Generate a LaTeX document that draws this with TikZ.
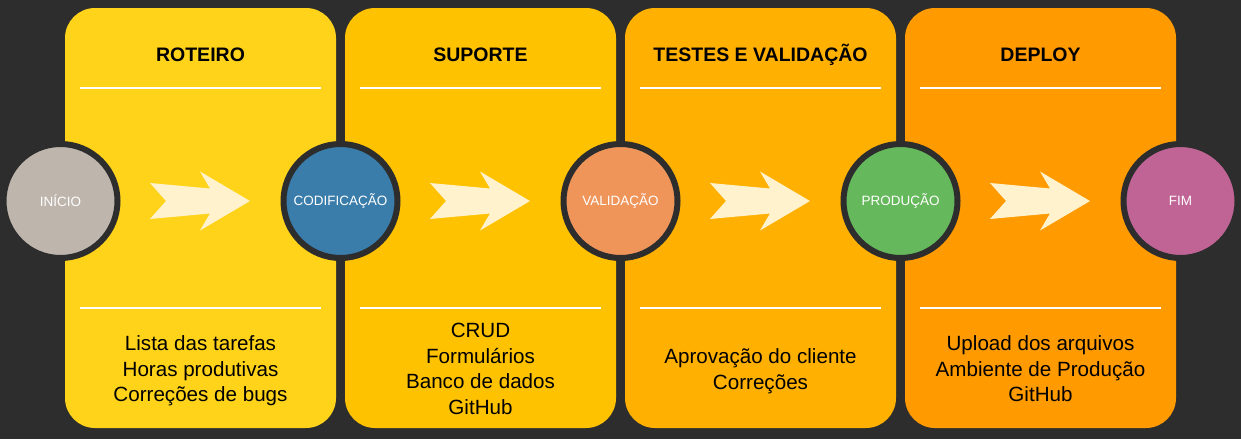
\documentclass[tikz,border=0pt]{standalone}
\usepackage{fontspec}
\setmainfont{Liberation Sans}
\usepackage{tikz}
\definecolor{bgdark}{HTML}{2D2D2D}
\definecolor{roteirocol}{HTML}{FFD31A}
\definecolor{suportecol}{HTML}{FFC200}
\definecolor{testescol}{HTML}{FFB000}
\definecolor{deploycol}{HTML}{FF9A00}
\definecolor{iniciocol}{HTML}{BEB5AC}
\definecolor{codifcol}{HTML}{3A7DAA}
\definecolor{validcol}{HTML}{F0955A}
\definecolor{prodcol}{HTML}{66B85C}
\definecolor{fimcol}{HTML}{C06496}
\definecolor{cream}{HTML}{FFF2CC}
\tikzstyle{panel} = [rectangle, rounded corners=30pt, minimum width=271pt, minimum height=420pt, inner sep=0pt]
\tikzstyle{stage} = [circle, draw=bgdark, line width=6pt, minimum size=114pt, inner sep=0pt, text=white, font=\fontsize{13.5}{16}\selectfont]
\tikzstyle{heading} = [font=\fontsize{19.5}{23}\selectfont\bfseries]
\tikzstyle{items} = [align=center, font=\fontsize{20.6}{25.5}\selectfont]
\tikzstyle{sepline} = [white, line width=2pt]
\newcommand{\chevron}[1]{\fill[cream] (#1,183) -- (#1+60,188.5) -- (#1+50,171.5) -- (#1+100,201) -- (#1+50,230.5) -- (#1+60,213.5) -- (#1,219) -- (#1+16,201) -- cycle;}

\begin{document}
\begin{tikzpicture}[x=1pt, y=-1pt]
    \useasboundingbox (0,0) rectangle (1241,439);
    \fill[bgdark] (0,0) rectangle (1241,439);
    \node (roteiro) [panel, fill=roteirocol] at (200.5,218) {};
    \node (suporte) [panel, fill=suportecol] at (480.5,218) {};
    \node (testes) [panel, fill=testescol] at (760.5,218) {};
    \node (deploy) [panel, fill=deploycol] at (1040.5,218) {};
    \node [heading] at (200.5,55) {ROTEIRO};
    \node [heading] at (480.5,55) {SUPORTE};
    \node [heading] at (760.5,55) {TESTES E VALIDAÇÃO};
    \node [heading] at (1040.5,55) {DEPLOY};
    \draw[sepline] (80,88) -- (321,88);
    \draw[sepline] (360,88) -- (601,88);
    \draw[sepline] (640,88) -- (881,88);
    \draw[sepline] (920,88) -- (1161,88);
    \draw[sepline] (80,308) -- (321,308);
    \draw[sepline] (360,308) -- (601,308);
    \draw[sepline] (640,308) -- (881,308);
    \draw[sepline] (920,308) -- (1161,308);
    \node [items] at (200.5,371) {Lista das tarefas\\Horas produtivas\\Correções de bugs};
    \node [items] at (480.5,369) {CRUD\\Formulários\\Banco de dados\\GitHub};
    \node [items] at (760.5,371) {Aprovação do cliente\\Correções};
    \node [items] at (1040.5,369) {Upload dos arquivos\\Ambiente de Produção\\GitHub};
    \chevron{150}
    \chevron{430}
    \chevron{710}
    \chevron{990}
    \node (inicio) [stage, fill=iniciocol] at (60.5,201) {INÍCIO};
    \node (codif) [stage, fill=codifcol] at (340.5,201) {CODIFICAÇÃO};
    \node (valid) [stage, fill=validcol] at (620.5,201) {VALIDAÇÃO};
    \node (prod) [stage, fill=prodcol] at (900.5,201) {PRODUÇÃO};
    \node (fim) [stage, fill=fimcol] at (1180.5,201) {FIM};
\end{tikzpicture}
\end{document}
